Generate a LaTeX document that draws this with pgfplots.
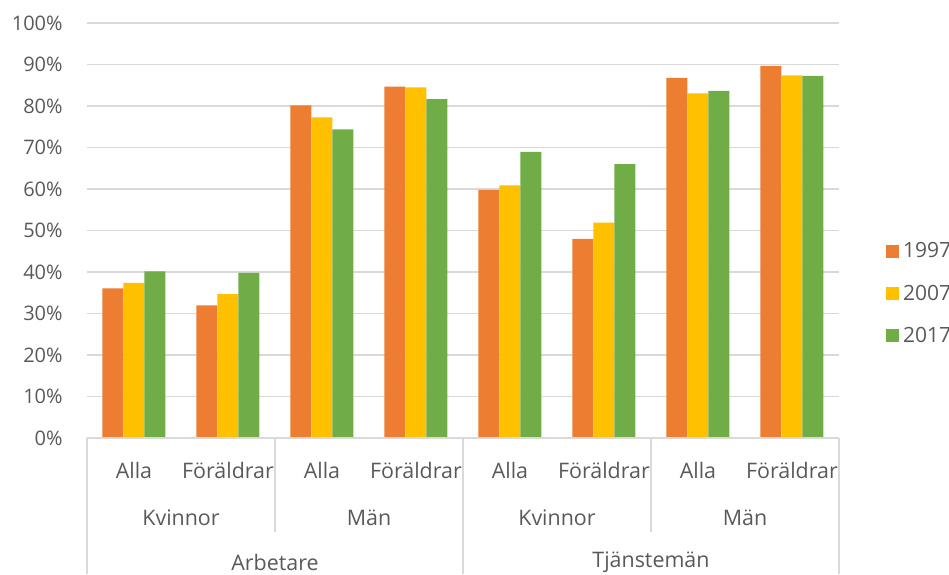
\documentclass[border=0pt]{standalone}
\usepackage{fontspec}
\setmainfont{Open Sans}
\usepackage{pgfplots}
\pgfplotsset{compat=1.18}
\definecolor{c97}{HTML}{ED7D31}
\definecolor{c07}{HTML}{FFC000}
\definecolor{c17}{HTML}{70AD47}
\definecolor{txt}{HTML}{595959}
\definecolor{gridc}{HTML}{D9D9D9}

\begin{document}
\begin{tikzpicture}
\useasboundingbox (-43.5pt,-68pt) rectangle (431pt,219pt);
\begin{axis}[
    at={(0pt,0pt)}, anchor=south west,
    scale only axis, width=376pt, height=207.4pt,
    xmin=-0.5, xmax=7.5, ymin=0, ymax=100,
    ybar=0pt, bar width=10.5pt,
    ytick={0,10,...,100},
    yticklabels={0\%,10\%,20\%,30\%,40\%,50\%,60\%,70\%,80\%,90\%,100\%},
    xtick={0,...,7},
    xticklabels={Alla,Föräldrar,Alla,Föräldrar,Alla,Föräldrar,Alla,Föräldrar},
    ymajorgrids, grid style={gridc, line width=0.75pt},
    axis line style={draw=none},
    major tick length=0pt,
    tick label style={font=\fontsize{10}{12}\selectfont, text=txt},
    xticklabel style={anchor=center, yshift=-16pt, font=\fontsize{10.7}{12}\selectfont},
    yticklabel style={anchor=east, inner sep=0pt, xshift=-12pt},
    clip=false,
    legend style={at={(1.062,0.347)}, anchor=west, draw=none, fill=none,
        font=\fontsize{10.5}{12}\selectfont, text=txt, row sep=8pt, inner sep=0pt},
    legend cell align=left,
    legend image code/.code={\fill[#1] (0pt,-3pt) rectangle (6.5pt,3.5pt);},
]
\addplot[fill=c97, draw=none] coordinates {(0,36.1) (1,32.0) (2,80.2) (3,84.7) (4,59.8) (5,48.0) (6,86.8) (7,89.7)};
\addplot[fill=c07, draw=none] coordinates {(0,37.4) (1,34.7) (2,77.3) (3,84.5) (4,60.9) (5,51.9) (6,83.1) (7,87.4)};
\addplot[fill=c17, draw=none] coordinates {(0,40.2) (1,39.8) (2,74.4) (3,81.7) (4,69.0) (5,66.0) (6,83.7) (7,87.3)};
\legend{1997,2007,2017}

% baseline and category separators
\draw[gridc, line width=0.75pt] (axis cs:-0.5,0) -- (axis cs:7.5,0);
\draw[gridc, line width=0.75pt] (axis cs:-0.5,0) -- ++(0pt,-68pt);
\draw[gridc, line width=0.75pt] (axis cs:1.5,0) -- ++(0pt,-47pt);
\draw[gridc, line width=0.75pt] (axis cs:3.5,0) -- ++(0pt,-68pt);
\draw[gridc, line width=0.75pt] (axis cs:5.5,0) -- ++(0pt,-47pt);
\draw[gridc, line width=0.75pt] (axis cs:7.5,0) -- ++(0pt,-68pt);

\tikzset{grp/.style={font=\fontsize{10.7}{12}\selectfont, text=txt}}
\node[grp, yshift=-40pt] at (axis cs:0.5,0) {Kvinnor};
\node[grp, yshift=-40pt] at (axis cs:2.5,0) {Män};
\node[grp, yshift=-40pt] at (axis cs:4.5,0) {Kvinnor};
\node[grp, yshift=-40pt] at (axis cs:6.5,0) {Män};
\node[grp, yshift=-62pt] at (axis cs:1.5,0) {Arbetare};
\node[grp, yshift=-62pt] at (axis cs:5.5,0) {Tjänstemän};
\end{axis}
\end{tikzpicture}
\end{document}
